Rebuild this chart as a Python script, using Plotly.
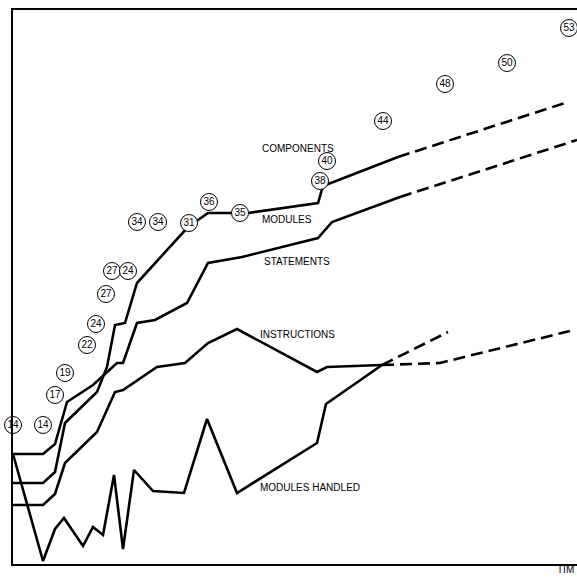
import plotly.graph_objects as go

# ---- data (time units along x, count units along y) ----
modules_t = [0, 30, 42, 52, 84, 94, 102, 112, 124, 175, 195, 235, 305, 310, 385]
modules_v = [81, 81, 92, 141, 172, 197, 239, 241, 281, 337, 351, 351, 361, 378, 407]
modules_proj_t = [385, 555]
modules_proj_v = [407, 462]

statements_t = [0, 30, 42, 54, 80, 104, 110, 124, 142, 174, 195, 229, 305, 319, 387]
statements_v = [110, 110, 120, 162, 179, 201, 201, 241, 244, 261, 301, 307, 326, 342, 367]
statements_proj_t = [387, 564]
statements_proj_v = [367, 424]

instructions_t = [0, 30, 42, 52, 84, 102, 110, 144, 172, 195, 224, 304, 314, 369]
instructions_v = [59, 59, 70, 101, 132, 172, 174, 197, 201, 221, 235, 192, 197, 199]
instructions_proj_t = [369, 427, 557]
instructions_proj_v = [199, 201, 233]

handled_t = [0, 30, 42, 51, 70, 80, 90, 101, 110, 121, 140, 171, 194, 224, 304, 313, 369]
handled_v = [110, 3, 35, 46, 18, 37, 29, 89, 15, 94, 73, 71, 145, 71, 121, 160, 199]
handled_proj_t = [369, 435]
handled_proj_v = [199, 232]

components_t = [0, 30, 42, 52, 74, 83, 93, 99, 115, 124, 145, 176, 196, 227, 307, 314, 370, 432, 494, 556]
components_v = [139, 139, 169, 191, 219, 240, 270, 293, 293, 342, 342, 341, 362, 351, 383, 403, 443, 480, 501, 536]
components_labels = ["14", "14", "17", "19", "22", "24", "27", "27", "24", "34", "34", "31",
                     "36", "35", "38", "40", "44", "48", "50", "53"]

series_names = ["COMPONENTS", "MODULES", "STATEMENTS", "INSTRUCTIONS", "MODULES HANDLED"]
label_t = [247, 247, 249, 245, 245]
label_v = [416, 345, 303, 230, 77]

fig = go.Figure()

LW = 2.6
solid = [(modules_t, modules_v), (statements_t, statements_v),
         (instructions_t, instructions_v), (handled_t, handled_v)]
dashed = [(modules_proj_t, modules_proj_v), (statements_proj_t, statements_proj_v),
          (instructions_proj_t, instructions_proj_v), (handled_proj_t, handled_proj_v)]

for t, v in solid:
    fig.add_trace(go.Scatter(x=t, y=v, mode="lines", line=dict(color="black", width=LW),
                             cliponaxis=False, hoverinfo="skip"))
for t, v in dashed:
    fig.add_trace(go.Scatter(x=t, y=v, mode="lines",
                             line=dict(color="black", width=LW, dash="12px,6px"),
                             cliponaxis=False, hoverinfo="skip"))

fig.add_trace(go.Scatter(
    x=components_t, y=components_v, mode="markers+text", text=components_labels,
    textposition="middle center",
    textfont=dict(family="Liberation Sans", size=10, color="black"),
    marker=dict(size=17, color="white", line=dict(color="black", width=1)),
    cliponaxis=False, hoverinfo="skip"))

for name, t, v in zip(series_names, label_t, label_v):
    fig.add_annotation(x=t, y=v, text=name, showarrow=False, xanchor="left",
                       yanchor="middle",
                       font=dict(family="Liberation Sans", size=10, color="black"))

fig.add_annotation(x=1.0, y=0, xref="paper", yref="paper", text="TIM", showarrow=False,
                   xanchor="right", yanchor="bottom", xshift=-1, yshift=-13,
                   font=dict(family="Liberation Sans", size=10, color="black"))

fig.update_layout(
    width=577, height=577, autosize=False,
    margin=dict(l=13, r=0, t=10, b=13),
    paper_bgcolor="white", plot_bgcolor="white",
    showlegend=False,
)
fig.update_xaxes(range=[0, 564], showgrid=False, zeroline=False, showticklabels=False,
                 ticks="", showline=True, linecolor="black", linewidth=1.5, mirror=True)
fig.update_yaxes(range=[0, 554], showgrid=False, zeroline=False, showticklabels=False,
                 ticks="", showline=True, linecolor="black", linewidth=1.5, mirror=False)

fig.write_html("out.html", config={"displayModeBar": False},
               post_script="document.body.style.margin='0';document.body.style.overflow='hidden';")
